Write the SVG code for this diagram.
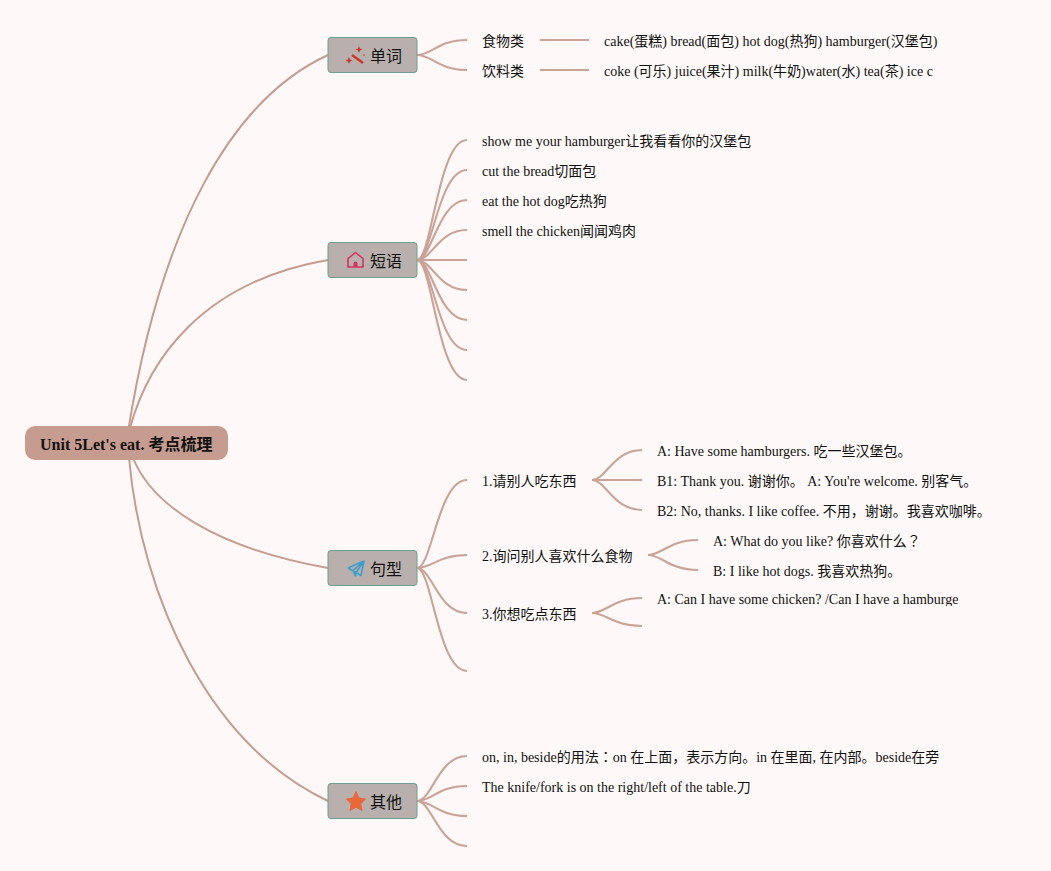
<svg xmlns="http://www.w3.org/2000/svg" width="1051" height="871" viewBox="0 0 1051 871">
<style>
.m{fill:none;stroke:#c49c91;stroke-width:2}
.c{fill:none;stroke:#c9a398;stroke-width:2.100}
.b{fill:#b9afac;stroke:#6b9f8f;stroke-width:1}
.t{font-family:"Liberation Serif","Noto Sans CJK JP",serif;font-size:14px;fill:#111}
.h{font-family:"Liberation Serif","Noto Sans CJK JP",sans-serif;font-size:16px;fill:#111}
.r{font-family:"Liberation Serif","Noto Sans CJK JP",serif;font-size:16px;font-weight:700;fill:#111}
</style>
<defs><clipPath id="clip3"><rect x="650" y="590" width="308.500" height="16"/></clipPath></defs>
<rect width="1051" height="871" fill="#fef9f8"/>
<g id="connectors">
<path class="m" d="M128 432C160 230 230 100 328 55"/>
<path class="m" d="M130 428C148 362 200 282 328 260"/>
<path class="m" d="M133 458C152 505 215 548 328 568"/>
<path class="m" d="M129 458C142 600 210 745 328 801"/>
<path class="c" d="M417 55C432 55 438 40 467 40"/>
<path class="c" d="M417 55C432 55 438 70 467 70"/>
<path class="c" d="M540 40H589"/>
<path class="c" d="M540 70H589"/>
<path class="c" d="M417 260C432 260 438 140 467 140"/>
<path class="c" d="M417 260C432 260 438 170 467 170"/>
<path class="c" d="M417 260C432 260 438 200 467 200"/>
<path class="c" d="M417 260C432 260 438 230 467 230"/>
<path class="c" d="M417 260H467"/>
<path class="c" d="M417 260C432 260 438 290 467 290"/>
<path class="c" d="M417 260C432 260 438 320 467 320"/>
<path class="c" d="M417 260C432 260 438 350 467 350"/>
<path class="c" d="M417 260C432 260 438 380 467 380"/>
<path class="c" d="M417 568C432 568 438 480 467 480"/>
<path class="c" d="M417 568C432 568 438 555 467 555"/>
<path class="c" d="M417 568C432 568 438 613 467 613"/>
<path class="c" d="M417 568C432 568 438 671 467 671"/>
<path class="c" d="M417 801C432 801 438 756 467 756"/>
<path class="c" d="M417 801C432 801 438 786 467 786"/>
<path class="c" d="M417 801C432 801 438 816 467 816"/>
<path class="c" d="M417 801C432 801 438 846 467 846"/>
<path class="c" d="M592 480C606 480 613 450 642 450"/>
<path class="c" d="M592 480H642"/>
<path class="c" d="M592 480C606 480 613 510 642 510"/>
<path class="c" d="M648 555C662 555 669 540 698 540"/>
<path class="c" d="M648 555C662 555 669 570 698 570"/>
<path class="c" d="M592 613C606 613 613 598 642 598"/>
<path class="c" d="M592 613C606 613 613 626 642 626"/>
</g>
<g id="root"><rect x="25" y="426" width="203" height="34" rx="10" fill="#c69b90"/><text class="r" x="40" y="450">Unit 5Let's eat. 考点梳理</text></g>
<g id="n1"><rect class="b" x="328" y="37.500" width="89" height="35" rx="3"/>
<path d="M352 55L363 63" stroke="#c8392b" stroke-width="2.500" fill="none"/><path d="M359 46l1 2.500 2.500 1-2.500 1-1 2.500-1-2.500-2.500-1 2.500-1zM349 57l1 2.500 2.500 1-2.500 1-1 2.500-1-2.500-2.500-1 2.500-1z" fill="#c8392b"/><circle cx="364" cy="55" r="0.800" fill="#c8392b"/>
<text class="h" x="370" y="62">单词</text></g>
<g id="n2"><rect class="b" x="328" y="242.500" width="89" height="35" rx="3"/>
<path d="M348 267V258.500L355.500 252.500L363 258.500V267Z" fill="none" stroke="#d6335f" stroke-width="1.600" stroke-linejoin="round"/><path d="M353.500 267V263.500a2 2 0 0 1 4 0V267Z" fill="#d6335f"/>
<text class="h" x="370" y="267">短语</text></g>
<g id="n3"><rect class="b" x="328" y="550.500" width="89" height="35" rx="3"/>
<path d="M348 568L364 561L361 575.500L348 568M353 570.500L364 561L356 572.500L355.500 576L353 570.500" fill="none" stroke="#3f9ec9" stroke-width="1.600" stroke-linejoin="round"/>
<text class="h" x="370" y="575">句型</text></g>
<g id="n4"><rect class="b" x="328" y="783.500" width="89" height="35" rx="3"/>
<path d="M356 791.500l3 6.500 6.500 1-4.800 4.800 1.300 6.700-6-3.300-6 3.300 1.300-6.700-4.800-4.800 6.500-1z" fill="#e8683a" stroke="#e8683a" stroke-linejoin="round"/>
<text class="h" x="370" y="808">其他</text></g>
<g id="l1"><text class="t" x="482" y="46">食物类</text></g>
<g id="l2"><text class="t" x="482" y="76">饮料类</text></g>
<g id="l3"><text class="t" x="604" y="46">cake(蛋糕) bread(面包) hot dog(热狗) hamburger(汉堡包)</text></g>
<g id="l4"><text class="t" x="604" y="76">coke (可乐) juice(果汁) milk(牛奶)water(水) tea(茶) ice c</text></g>
<g id="l5"><text class="t" x="482" y="146">show me your hamburger让我看看你的汉堡包</text></g>
<g id="l6"><text class="t" x="482" y="176">cut the bread切面包</text></g>
<g id="l7"><text class="t" x="482" y="206">eat the hot dog吃热狗</text></g>
<g id="l8"><text class="t" x="482" y="236">smell the chicken闻闻鸡肉</text></g>
<g id="l9"><text class="t" x="482" y="486">1.请别人吃东西</text></g>
<g id="l10"><text class="t" x="482" y="561">2.询问别人喜欢什么食物</text></g>
<g id="l11"><text class="t" x="482" y="619">3.你想吃点东西</text></g>
<g id="l12"><text class="t" x="657" y="456">A: Have some hamburgers. 吃一些汉堡包。</text></g>
<g id="l13"><text class="t" x="657" y="486">B1: Thank you. 谢谢你。 A: You're welcome. 别客气。</text></g>
<g id="l14"><text class="t" x="657" y="516">B2: No, thanks. I like coffee. 不用，谢谢。我喜欢咖啡。</text></g>
<g id="l15"><text class="t" x="713" y="546">A: What do you like? 你喜欢什么？</text></g>
<g id="l16"><text class="t" x="713" y="576">B: I like hot dogs. 我喜欢热狗。</text></g>
<g id="l17"><text class="t" x="657" y="604" clip-path="url(#clip3)">A: Can I have some chicken? /Can I have a hamburger?</text></g>
<g id="l18"><text class="t" x="482" y="762">on, in, beside的用法：on 在上面，表示方向。in 在里面, 在内部。beside在旁</text></g>
<g id="l19"><text class="t" x="482" y="792">The knife/fork is on the right/left of the table.刀</text></g>
</svg>
